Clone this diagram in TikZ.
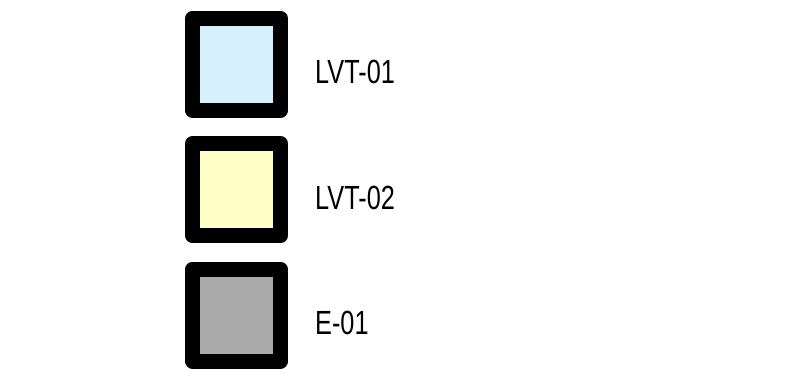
\documentclass[tikz,border=0pt]{standalone}
\usepackage{fontspec}
\setmainfont{Liberation Sans}[FakeStretch=0.755]
\definecolor{lblue}{HTML}{D6F0FC}
\definecolor{lyellow}{HTML}{FFFFC8}
\definecolor{lgray}{HTML}{AAAAAA}
\begin{document}
\begin{tikzpicture}[x=1pt,y=-1pt,
  legendbox/.style={draw=black, line width=15pt, line join=round, minimum width=88pt, minimum height=92pt, inner sep=0pt},
  legendtext/.style={anchor=base west, inner sep=0pt, font=\fontsize{33.5}{36}\selectfont}]
\useasboundingbox (0,0) rectangle (808,377);
\node[legendbox, fill=lblue] (b1) at (236.5,64.3) {};
\node[legendbox, fill=lyellow] (b2) at (236.5,189.7) {};
\node[legendbox, fill=lgray] (b3) at (236.5,315) {};
\node[legendtext] (t1) at (315,84) {LVT-01};
\node[legendtext] (t2) at (315,209) {LVT-02};
\node[legendtext] (t3) at (315,334) {E-01};
\end{tikzpicture}
\end{document}
